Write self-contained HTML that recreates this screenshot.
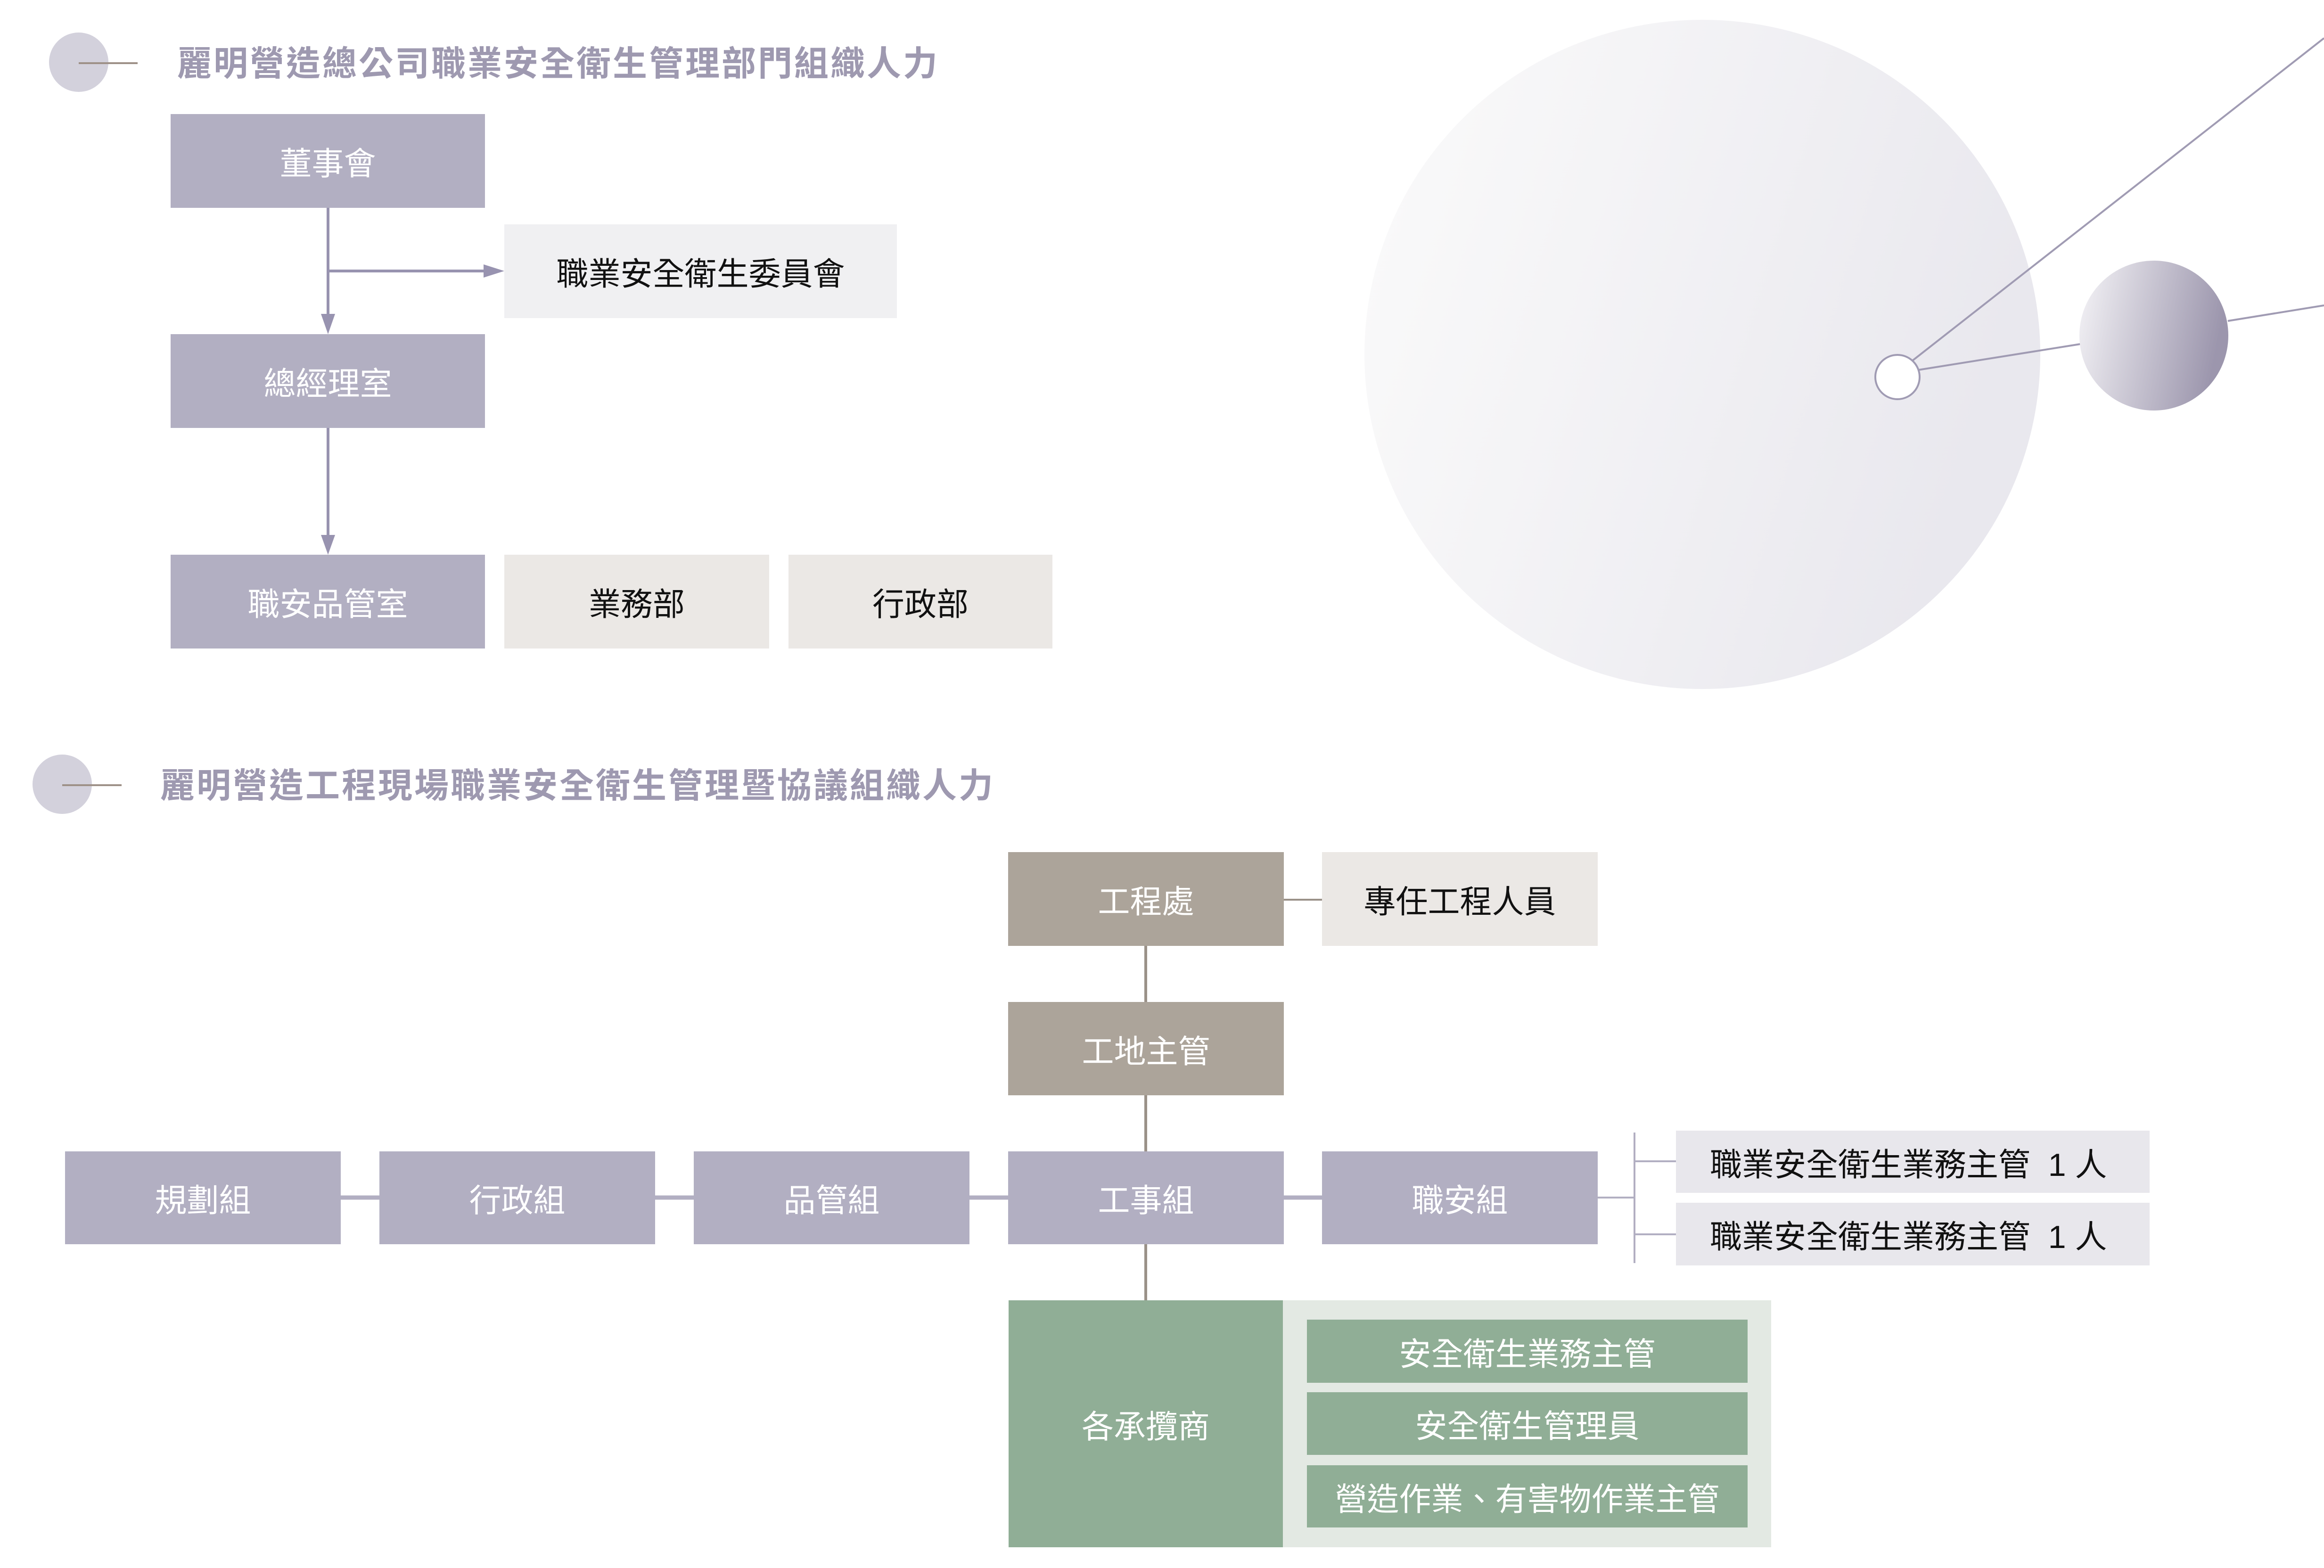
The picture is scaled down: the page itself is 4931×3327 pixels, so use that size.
<!DOCTYPE html>
<html><head><meta charset="utf-8"><style>
html,body{margin:0;padding:0;background:#fff}
body{width:4931px;height:3327px;position:relative;overflow:hidden;font-family:"Liberation Sans","Noto Sans CJK TC",sans-serif}
.b{position:absolute;display:flex;align-items:center;justify-content:center;font-size:68px;color:#fff;box-sizing:border-box;white-space:nowrap}
.p{background:#b2afc2}
.g{background:#aca49a}
.l{background:#ebe8e5;color:#111}
.w{background:#f0f0f2;color:#111}
.r{background:#e8e7ec;color:#111;justify-content:flex-start;padding-left:72px}
.gr{background:#90ae96}
.t{position:absolute;font-size:73px;color:#9e99b0;font-weight:bold;white-space:nowrap;line-height:1;letter-spacing:4px}
</style></head><body>
<svg width="4931" height="3327" style="position:absolute;left:0;top:0">
<defs>
<linearGradient id="g1" x1="0" y1="0" x2="1" y2="0.3"><stop offset="0" stop-color="#fbfbfb"/><stop offset="1" stop-color="#e9e8ee"/></linearGradient>
<linearGradient id="g2" x1="0" y1="0" x2="1" y2="0.2"><stop offset="0" stop-color="#f5f4f7"/><stop offset="1" stop-color="#9c96ad"/></linearGradient>
</defs>
<circle cx="167" cy="132" r="63" fill="#d3d1dc"/>
<line x1="167" y1="134" x2="292" y2="134" stroke="#9e9188" stroke-width="4"/>
<circle cx="132" cy="1664" r="63" fill="#d3d1dc"/>
<line x1="132" y1="1666" x2="258" y2="1666" stroke="#9e9188" stroke-width="4"/>
<ellipse cx="3612" cy="752" rx="717" ry="710" fill="url(#g1)"/>
<line x1="4058" y1="765" x2="4931" y2="81" stroke="#a09bb3" stroke-width="4"/>
<line x1="4070" y1="785" x2="4414" y2="730" stroke="#a09bb3" stroke-width="4"/>
<line x1="4727" y1="681" x2="4931" y2="648" stroke="#a09bb3" stroke-width="4"/>
<ellipse cx="4570" cy="712" rx="158" ry="159" fill="url(#g2)"/>
<circle cx="4026" cy="800" r="47" fill="#fff" stroke="#a09bb3" stroke-width="4"/>
<g stroke="#9893b0" stroke-width="6" fill="#9893b0">
<line x1="696" y1="440" x2="696" y2="670"/>
<polygon points="681,666 711,666 696,709" stroke="none"/>
<line x1="696" y1="575" x2="1030" y2="575"/>
<polygon points="1026,561 1026,589 1070,575" stroke="none"/>
<line x1="696" y1="908" x2="696" y2="1140"/>
<polygon points="681,1135 711,1135 696,1177" stroke="none"/>
</g>
<g stroke="#9a9188" stroke-width="6">
<line x1="2431" y1="2007" x2="2431" y2="2126"/>
<line x1="2431" y1="2324" x2="2431" y2="2443"/>
<line x1="2431" y1="2640" x2="2431" y2="2759"/>
<line x1="2724" y1="1909" x2="2805" y2="1909" stroke-width="4"/>
</g>
<g stroke="#b2afc2" stroke-width="9">
<line x1="723" y1="2541" x2="805" y2="2541"/>
<line x1="1390" y1="2541" x2="1472" y2="2541"/>
<line x1="2057" y1="2541" x2="2139" y2="2541"/>
<line x1="2724" y1="2541" x2="2805" y2="2541"/>
</g>
<g stroke="#b2afc2" stroke-width="4">
<line x1="3390" y1="2541" x2="3468" y2="2541"/>
<line x1="3468" y1="2403" x2="3468" y2="2680"/>
<line x1="3468" y1="2464" x2="3556" y2="2464"/>
<line x1="3468" y1="2619" x2="3556" y2="2619"/>
</g>
</svg>
<div class="t" style="left:376px;top:99px">麗明營造總公司職業安全衛生管理部門組織人力</div>
<div class="t" style="left:340px;top:1631px">麗明營造工程現場職業安全衛生管理暨協議組織人力</div>

<div class="b p" style="left:362px;top:242px;width:667px;height:199px">董事會</div>
<div class="b w" style="left:1070px;top:476px;width:833px;height:199px">職業安全衛生委員會</div>
<div class="b p" style="left:362px;top:709px;width:667px;height:199px">總經理室</div>
<div class="b p" style="left:362px;top:1177px;width:667px;height:199px">職安品管室</div>
<div class="b l" style="left:1070px;top:1177px;width:562px;height:199px">業務部</div>
<div class="b l" style="left:1673px;top:1177px;width:560px;height:199px">行政部</div>

<div class="b g" style="left:2139px;top:1808px;width:585px;height:199px">工程處</div>
<div class="b l" style="left:2805px;top:1808px;width:585px;height:199px">專任工程人員</div>
<div class="b g" style="left:2139px;top:2126px;width:585px;height:198px">工地主管</div>

<div class="b p" style="left:138px;top:2443px;width:585px;height:197px">規劃組</div>
<div class="b p" style="left:805px;top:2443px;width:585px;height:197px">行政組</div>
<div class="b p" style="left:1472px;top:2443px;width:585px;height:197px">品管組</div>
<div class="b p" style="left:2139px;top:2443px;width:585px;height:197px">工事組</div>
<div class="b p" style="left:2805px;top:2443px;width:585px;height:197px">職安組</div>

<div class="b r" style="left:3556px;top:2399px;width:1005px;height:132px">職業安全衛生業務主管&nbsp;&nbsp;1&nbsp;人</div>
<div class="b r" style="left:3556px;top:2552px;width:1005px;height:133px">職業安全衛生業務主管&nbsp;&nbsp;1&nbsp;人</div>

<div class="b" style="left:2722px;top:2759px;width:1036px;height:524px;background:#e3e9e3"></div>
<div class="b gr" style="left:2140px;top:2759px;width:582px;height:524px">各承攬商</div>
<div class="b gr" style="left:2773px;top:2800px;width:935px;height:134px">安全衛生業務主管</div>
<div class="b gr" style="left:2773px;top:2954px;width:935px;height:133px">安全衛生管理員</div>
<div class="b gr" style="left:2773px;top:3109px;width:935px;height:132px">營造作業、有害物作業主管</div>
</body></html>
